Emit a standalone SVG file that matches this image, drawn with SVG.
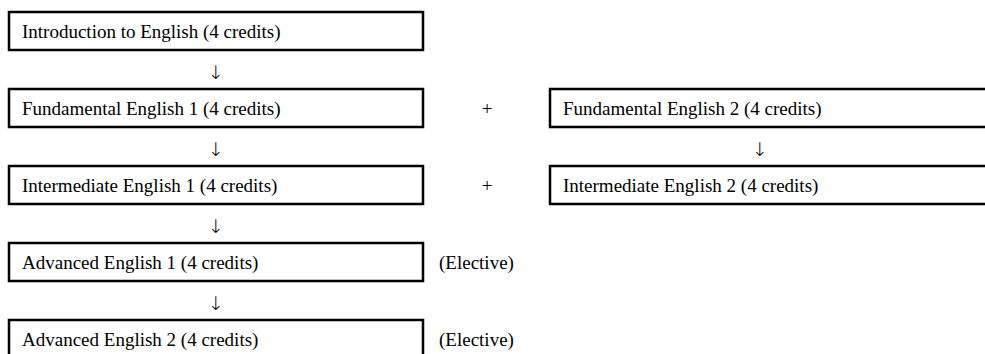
<svg xmlns="http://www.w3.org/2000/svg" width="985" height="354" viewBox="0 0 985 354">
<style>
.box{fill:#fff;stroke:#000;stroke-width:2.5}
.t{font-family:"Liberation Serif","Times New Roman",serif;font-size:19px;fill:#000}
.c{text-anchor:middle}
.a{font-family:"DejaVu Sans",sans-serif;font-weight:200;font-size:19px;fill:#000;text-anchor:middle}
</style>
<rect width="985" height="354" fill="#fff"/>
<g id="n-intro"><rect class="box" x="9" y="12" width="414" height="38"/><text class="t" x="22" y="37.5">Introduction to English (4 credits)</text></g>
<g id="n-fund1"><rect class="box" x="9" y="89" width="414" height="38"/><text class="t" x="22" y="114.5">Fundamental English 1 (4 credits)</text></g>
<g id="n-fund2"><rect class="box" x="550" y="89" width="460" height="38"/><text class="t" x="563" y="114.5">Fundamental English 2 (4 credits)</text></g>
<g id="n-int1"><rect class="box" x="9" y="166" width="414" height="38"/><text class="t" x="22" y="191.5">Intermediate English 1 (4 credits)</text></g>
<g id="n-int2"><rect class="box" x="550" y="166" width="460" height="38"/><text class="t" x="563" y="191.5">Intermediate English 2 (4 credits)</text></g>
<g id="n-adv1"><rect class="box" x="9" y="243" width="414" height="38"/><text class="t" x="22" y="268.5">Advanced English 1 (4 credits)</text></g>
<g id="n-adv2"><rect class="box" x="9" y="320" width="414" height="38"/><text class="t" x="22" y="345.5">Advanced English 2 (4 credits)</text></g>
<g id="connectors">
<text class="a" x="216" y="79">↓</text>
<text class="a" x="216" y="156">↓</text>
<text class="a" x="216" y="233">↓</text>
<text class="a" x="216" y="310">↓</text>
<text class="a" x="760" y="156">↓</text>
<text class="t c" x="487" y="114.5">+</text>
<text class="t c" x="487" y="191.5">+</text>
<text class="t" x="439" y="268.5">(Elective)</text>
<text class="t" x="439" y="345.5">(Elective)</text>
</g>
</svg>
